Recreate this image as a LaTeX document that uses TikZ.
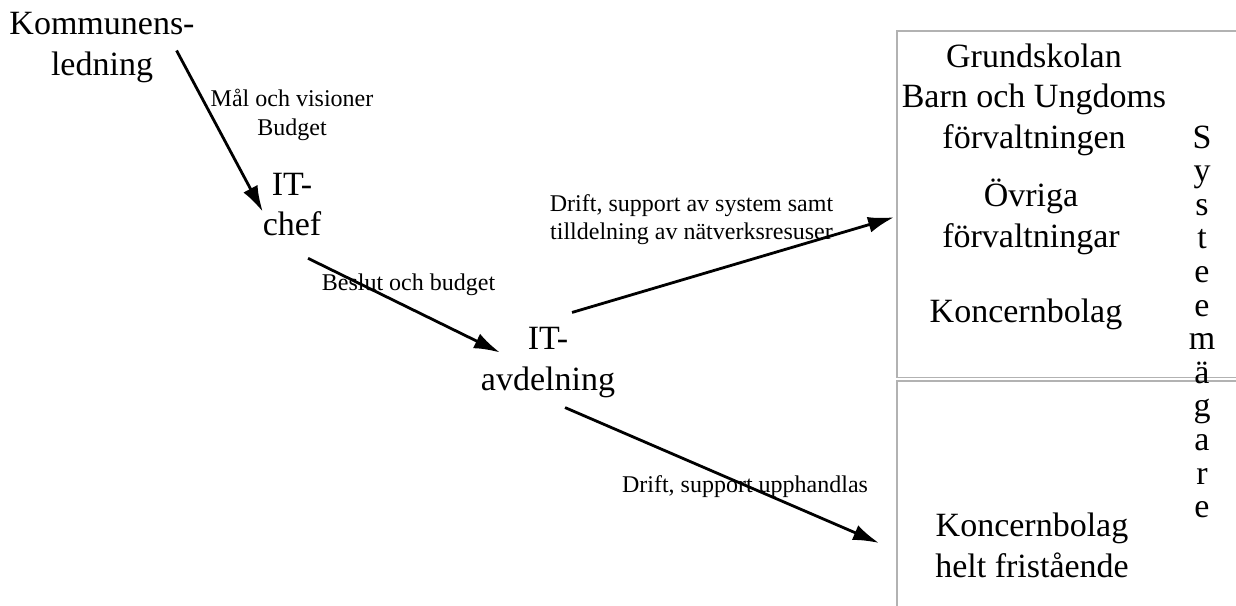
\documentclass[tikz,border=0pt]{standalone}
\usepackage{fontspec}
\setmainfont{Liberation Serif}
\usetikzlibrary{arrows.meta}

\begin{document}
\begin{tikzpicture}[x=1pt, y=-1pt,
			>={Latex[length=26pt,width=16pt]},   %Pfeilspitzen
			gross/.style={align=center, inner sep=0pt, outer sep=0pt, font=\fontsize{34}{40.5}\selectfont},
			klein/.style={align=center, inner sep=0pt, outer sep=0pt, font=\fontsize{24}{28.5}\selectfont},
			pfeil/.style={->, line width=2.8pt},
			feld/.style={draw=gray!60, line width=1.5pt, inner sep=0pt, outer sep=0pt, anchor=north west, minimum width=360}]
			\useasboundingbox (0,0) rectangle (1236,605);
			% Kasten rechts
			\node[feld, minimum height=346.5] (oben) at (897,31) {};
			\node[feld, minimum height=240] (unten) at (897,381) {};
			% Einheiten
			\node[gross] (kommun) at (102,47.5) {Kommunens-\\ledning};
			\node[gross] (itchef) at (292,204.75) {IT-\\chef};
			\node[gross] (itavd) at (548,362.5) {IT-\\avdelning};
			\node[gross] (grund) at (1034,99.6) {Grundskolan\\Barn och Ungdoms\\förvaltningen};
			\node[gross] (ovriga) at (1031,216.7) {Övriga\\förvaltningar};
			\node[gross] (koncern) at (1026,314) {Koncernbolag};
			\node[gross] (fristaende) at (1032,545.4) {Koncernbolag\\helt fristående};
			\node[gross, font=\fontsize{34}{33.6}\selectfont] (agare) at (1202,321.75) {S\\y\\s\\t\\e\\e\\m\\ä\\g\\a\\r\\e};
			% Beschriftungen
			\node[klein] (mal) at (292,114.9) {Mål och visioner\\Budget};
			\node[klein] (beslut) at (408.5,284.4) {Beslut och budget};
			\node[klein] (drift) at (691.5,219.4) {Drift, support av system samt\\tilldelning av nätverksresuser};
			\node[klein] (upphandlas) at (745,486.4) {Drift, support upphandlas};
			% Pfeile
			\draw[pfeil] ([shift={(-18,3)}]kommun.east) -- ([shift={(0,7)}]itchef.west);
			\draw[pfeil] ([shift={(16,22)}]itchef.south) -- ([shift={(19,-10)}]itavd.west);
			\draw[pfeil] ([shift={(-43,-15)}]itavd.north east) -- ([shift={(-3,13)}]oben.west);
			\draw[pfeil] ([shift={(-50,10)}]itavd.south east) -- ([shift={(-18,42)}]unten.west);
		\end{tikzpicture}
\end{document}
